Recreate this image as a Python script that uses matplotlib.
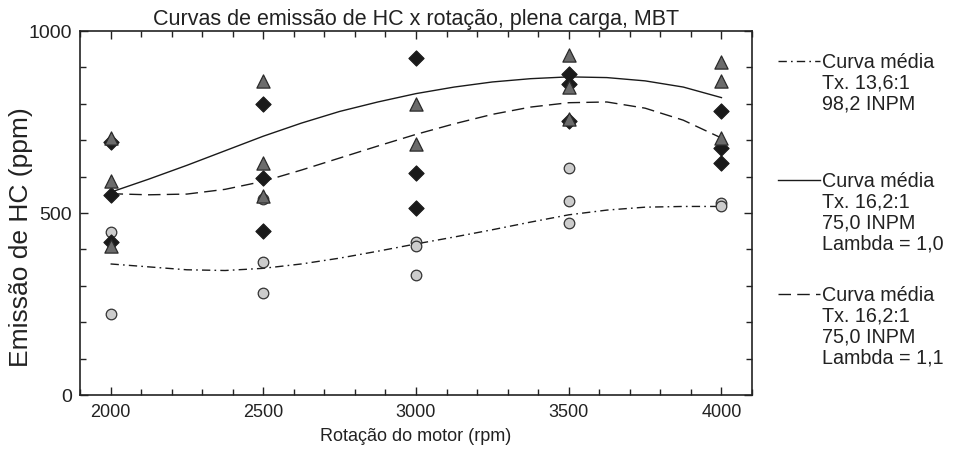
import matplotlib
matplotlib.use("Agg")
import matplotlib.pyplot as plt
from matplotlib.lines import Line2D
from matplotlib.ticker import MultipleLocator

plt.rcParams['font.family'] = ['Liberation Sans', 'DejaVu Sans']

# Measured points (rpm, HC ppm)
tri_rpm = [2000, 2000, 2000, 2500, 2500, 2500, 3000, 3000, 3500, 3500, 3500, 4000, 4000, 4000]
tri_hc = [705, 587, 410, 863, 637, 548, 799, 690, 935, 845, 757, 914, 864, 705]

dia_rpm = [2000, 2000, 2000, 2500, 2500, 2500, 3000, 3000, 3000, 3500, 3500, 3500, 4000, 4000, 4000]
dia_hc = [694, 549, 421, 799, 597, 451, 927, 609, 514, 882, 854, 752, 779, 678, 636]

circ_rpm = [2000, 2000, 2500, 2500, 2500, 3000, 3000, 3000, 3500, 3500, 3500, 4000, 4000]
circ_hc = [447, 223, 538, 365, 279, 419, 409, 331, 624, 534, 472, 527, 520]

# Mean curves
curve_rpm = [2000, 2125, 2250, 2375, 2500, 2625, 2750, 2875, 3000,
             3125, 3250, 3375, 3500, 3625, 3750, 3875, 4000]
curve_136 = [360, 352, 344, 342, 348, 360, 376, 395, 415,
             434, 454, 475, 495, 508, 516, 518, 518]
curve_162_l10 = [557, 593, 631, 671, 711, 747, 779, 805, 828,
                 846, 860, 869, 874, 872, 863, 846, 817]
curve_162_l11 = [553, 550, 552, 565, 587, 618, 651, 684, 716,
                 745, 771, 791, 803, 805, 788, 755, 706]

legend_labels = [
    "Curva média\nTx. 13,6:1\n98,2 INPM",
    "Curva média\nTx. 16,2:1\n75,0 INPM\nLambda = 1,0",
    "Curva média\nTx. 16,2:1\n75,0 INPM\nLambda = 1,1",
]

dashdot = (0, (6, 3, 1.2, 3))
dashed = (0, (9, 4.5))
styles = [dashdot, '-', dashed]

fig = plt.figure(figsize=(9.65, 4.6), dpi=100)
ax = fig.add_axes([80 / 965, 64 / 460, 672 / 965, 364 / 460])

for ys, ls in zip([curve_136, curve_162_l10, curve_162_l11], styles):
    ax.plot(curve_rpm, ys, color='#1a1a1a', lw=1.0, linestyle=ls, zorder=2)

ax.scatter(circ_rpm, circ_hc, marker='o', s=58, facecolor='#cccccc',
           edgecolor='#333333', linewidth=0.9, zorder=3)
ax.scatter(dia_rpm, dia_hc, marker='D', s=60, facecolor='#1a1a1a',
           edgecolor='#1a1a1a', linewidth=0.8, zorder=4)
ax.scatter(tri_rpm, tri_hc, marker='^', s=90, facecolor='#6b6b6b',
           edgecolor='#2a2a2a', linewidth=0.9, zorder=5)

ax.set_xlim(1900, 4100)
ax.set_ylim(0, 1000)
ax.xaxis.set_major_locator(MultipleLocator(500))
ax.xaxis.set_minor_locator(MultipleLocator(100))
ax.yaxis.set_major_locator(MultipleLocator(500))
ax.yaxis.set_minor_locator(MultipleLocator(100))
ax.tick_params(which='both', direction='in', top=True, right=True,
               width=1.0, colors='#222222')
ax.tick_params(axis='x', labelsize=13)
ax.tick_params(axis='y', labelsize=14)
ax.tick_params(which='major', length=6, pad=6)
ax.tick_params(which='minor', length=4)
for sp in ax.spines.values():
    sp.set_linewidth(1.2)
    sp.set_color('#222222')

ax.set_title("Curvas de emissão de HC x rotação, plena carga, MBT",
             fontsize=15.5, pad=5, color='#222222')
ax.set_xlabel("Rotação do motor (rpm)", fontsize=13, labelpad=5, color='#222222')
ax.set_ylabel("Emissão de HC (ppm)", fontsize=19, color='#222222')
ax.yaxis.set_label_coords(-0.070, 0.437)

# legend drawn beside the plot, handle aligned with first text line
entry_top = [62, 181, 295]
for lab, ls, ytop in zip(legend_labels, styles, entry_top):
    yf = 1 - ytop / 460
    fig.add_artist(Line2D([778 / 965, 820 / 965], [yf, yf], color='#1a1a1a',
                          lw=1.0, linestyle=ls, transform=fig.transFigure))
    fig.text(822 / 965, yf + 9 / 460, lab, fontsize=14.2, va='top', ha='left',
             linespacing=1.12, color='#222222', transform=fig.transFigure)

fig.savefig("out.png", dpi=100)
